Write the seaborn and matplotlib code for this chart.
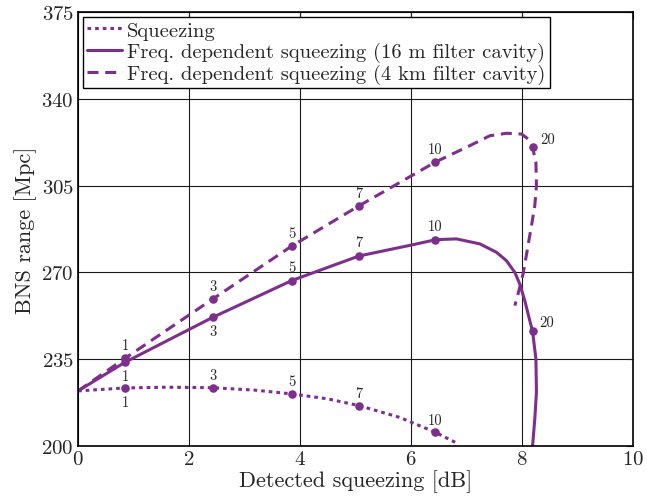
import numpy as np
import pandas as pd
import matplotlib
matplotlib.use("Agg")
import matplotlib.pyplot as plt
import seaborn as sns

# values
# detected squeezing [dB] vs BNS range [Mpc]
sqz_x = [0.0, 0.85, 1.6, 2.43, 3.2, 3.85, 4.5, 5.06, 5.8, 6.44, 6.82]
sqz_y = [222.2, 223.4, 223.7, 223.5, 222.5, 221.0, 219.0, 216.3, 211.5, 205.5, 201.2]

fd16_x = [0.0, 0.85, 2.43, 3.85, 5.06, 6.0, 6.45, 6.82, 7.24, 7.54, 7.72, 7.87, 7.96,
          8.05, 8.14, 8.19, 8.25, 8.26, 8.23, 8.19]
fd16_y = [222.2, 233.8, 251.9, 266.7, 276.6, 281.0, 283.2, 283.5, 281.5, 278.1, 274.7, 270.0,
          265.3, 258.6, 250.5, 246.3, 235.1, 221.8, 210.9, 200.0]

fd4k_x = [0.0, 0.85, 2.43, 3.85, 5.06, 6.44, 7.06, 7.42, 7.72, 7.99, 8.11, 8.19, 8.25,
          8.26, 8.23, 8.17, 8.02, 7.92, 7.87]
fd4k_y = [222.2, 235.4, 259.3, 280.6, 296.8, 314.5, 321.1, 325.1, 326.1, 325.8, 323.8, 320.4,
          314.4, 305.0, 296.9, 288.8, 269.4, 260.6, 256.6]

# marked injection levels
inj_labels = ["1", "3", "5", "7", "10"]
mark_x = [0.85, 2.43, 3.85, 5.06, 6.44]
sqz_mark_y = [223.4, 223.5, 221.0, 216.3, 205.5]
fd16_mark_y = [233.8, 251.9, 266.7, 276.6, 283.2]
fd4k_mark_y = [235.4, 259.3, 280.6, 296.8, 314.5]
inj20_label = "20"
fd16_mark20 = (8.19, 246.3)
fd4k_mark20 = (8.19, 320.4)

legend_labels = ["Squeezing",
                 "Freq. dependent squeezing (16 m filter cavity)",
                 "Freq. dependent squeezing (4 km filter cavity)"]

xticks = [0, 2, 4, 6, 8, 10]
yticks = [200, 235, 270, 305, 340, 375]

purple = "#7E2F8E"

sns.set_style("white")
plt.rcParams["font.family"] = ["cmr10", "DejaVu Serif"]
plt.rcParams["mathtext.fontset"] = "cm"
plt.rcParams["axes.formatter.use_mathtext"] = True

fig = plt.figure(figsize=(6.47, 5.02), dpi=100)
ax = fig.add_axes([0.1206, 0.1096, 0.8578, 0.8645])

lw = 2.2
sns.lineplot(x=sqz_x, y=sqz_y, sort=False, estimator=None, ax=ax, color=purple,
             linewidth=lw, linestyle=(0, (1.2, 1.3)), label=legend_labels[0])
sns.lineplot(x=fd16_x, y=fd16_y, sort=False, estimator=None, ax=ax, color=purple,
             linewidth=lw, linestyle="-", label=legend_labels[1])
sns.lineplot(x=fd4k_x, y=fd4k_y, sort=False, estimator=None, ax=ax, color=purple,
             linewidth=lw, linestyle=(0, (3.6, 2.2)), label=legend_labels[2])

all_mx = mark_x * 3 + [fd16_mark20[0], fd4k_mark20[0]]
all_my = sqz_mark_y + fd16_mark_y + fd4k_mark_y + [fd16_mark20[1], fd4k_mark20[1]]
sns.scatterplot(x=all_mx, y=all_my, ax=ax, color=purple, s=38, linewidth=0, zorder=4,
                legend=False)

fs_lab = 10.5
for i, lab in enumerate(inj_labels):
    off = (0, -10) if i == 0 else (0, 9)
    ax.annotate(lab, (mark_x[i], sqz_mark_y[i]), xytext=off, textcoords="offset points",
                ha="center", va="center", fontsize=fs_lab)
    off = (0, -10) if i < 2 else (0, 10)
    ax.annotate(lab, (mark_x[i], fd16_mark_y[i]), xytext=off, textcoords="offset points",
                ha="center", va="center", fontsize=fs_lab)
    ax.annotate(lab, (mark_x[i], fd4k_mark_y[i]), xytext=(0, 9.5), textcoords="offset points",
                ha="center", va="center", fontsize=fs_lab)
ax.annotate(inj20_label, fd16_mark20, xytext=(10, 6.5), textcoords="offset points",
            ha="center", va="center", fontsize=fs_lab)
ax.annotate(inj20_label, fd4k_mark20, xytext=(10.5, 6), textcoords="offset points",
            ha="center", va="center", fontsize=fs_lab)

ax.set_xlim(0, 10)
ax.set_ylim(200, 375)
ax.set_xticks(xticks)
ax.set_yticks(yticks)
ax.grid(True, color="0.1", linewidth=0.8)
ax.set_axisbelow(True)
ax.tick_params(direction="in", length=5, width=0.8, labelsize=15, top=True, right=True,
               pad=3)
for sp in ax.spines.values():
    sp.set_color("black")
    sp.set_linewidth(1.2)
ax.set_xlabel("Detected squeezing [dB]", fontsize=16, labelpad=1)
ax.set_ylabel("BNS range [Mpc]", fontsize=16, labelpad=3)

leg = ax.legend(loc="upper left", fontsize=14.8, frameon=True, fancybox=False,
                edgecolor="black", framealpha=1, borderaxespad=0.25, handlelength=1.7,
                handletextpad=0.25, borderpad=0.2, labelspacing=0.1)
leg.get_frame().set_linewidth(1.0)

fig.savefig("out.png", dpi=100)
